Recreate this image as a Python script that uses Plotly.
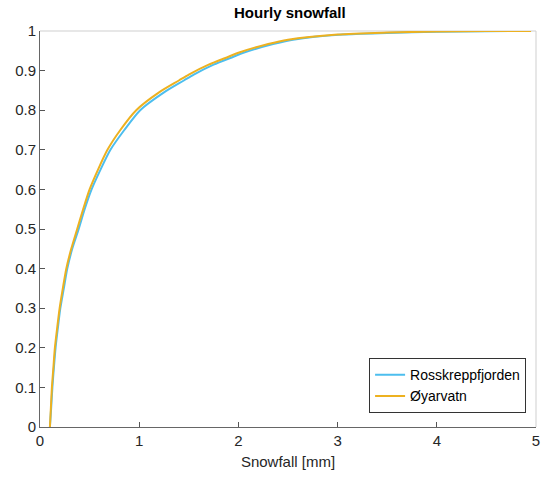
import plotly.graph_objects as go

# Empirical cumulative distribution of hourly snowfall at two stations
ross_x = [0.1, 0.113, 0.125, 0.14, 0.157, 0.18, 0.205, 0.24, 0.275, 0.325, 0.39,
          0.45, 0.52, 0.61, 0.71, 0.85, 1.01, 1.25, 1.45, 1.55, 1.75, 1.95, 2.05,
          2.35, 2.55, 3.05, 3.5, 4.0, 4.5, 4.95]
ross_y = [0.0, 0.05, 0.1, 0.15, 0.2, 0.25, 0.3, 0.35, 0.4, 0.45, 0.5,
          0.55, 0.6, 0.65, 0.7, 0.75, 0.8, 0.845, 0.875, 0.89, 0.915, 0.935, 0.945,
          0.967, 0.978, 0.991, 0.995, 0.998, 0.9995, 1.0]

oyar_x = [0.1, 0.11, 0.12, 0.135, 0.15, 0.173, 0.198, 0.23, 0.265, 0.315, 0.375,
          0.435, 0.5, 0.585, 0.68, 0.81, 0.97, 1.2, 1.4, 1.5, 1.7, 1.9, 2.0,
          2.3, 2.5, 3.0, 3.5, 4.0, 4.5, 4.95]
oyar_y = [0.0, 0.05, 0.1, 0.15, 0.2, 0.25, 0.3, 0.35, 0.4, 0.45, 0.5,
          0.55, 0.6, 0.65, 0.7, 0.75, 0.8, 0.845, 0.875, 0.89, 0.915, 0.935, 0.945,
          0.967, 0.978, 0.991, 0.996, 0.999, 1.0, 1.0]

x_ticks = [0, 1, 2, 3, 4, 5]
y_ticks = [0, 0.1, 0.2, 0.3, 0.4, 0.5, 0.6, 0.7, 0.8, 0.9, 1]

FONT = "Liberation Sans, Arial, sans-serif"
AX = "#262626"

fig = go.Figure()
fig.add_trace(go.Scatter(x=ross_x, y=ross_y, mode="lines", name="Rosskreppfjorden",
                         line=dict(color="#4DBEEE", width=2, shape="spline", smoothing=0.7)))
fig.add_trace(go.Scatter(x=oyar_x, y=oyar_y, mode="lines", name="Øyarvatn",
                         line=dict(color="#EDB120", width=2, shape="spline", smoothing=0.7)))

# light top/right box edges
fig.add_shape(type="line", xref="paper", yref="paper", x0=0, x1=1, y0=1, y1=1,
              line=dict(color="#cfcfcf", width=1), layer="below")
fig.add_shape(type="line", xref="paper", yref="paper", x0=1, x1=1, y0=0, y1=1,
              line=dict(color="#cfcfcf", width=1), layer="below")

fig.update_layout(
    width=550, height=479,
    margin=dict(l=40, r=10, t=31, b=52),
    paper_bgcolor="white", plot_bgcolor="white",
    font=dict(family=FONT, size=15, color=AX),
    title=dict(text="<b>Hourly snowfall</b>", x=0.527, xanchor="center",
               y=0.985, yanchor="top", font=dict(size=15, color="black")),
    xaxis=dict(range=[0, 5], tickvals=x_ticks, ticks="inside", ticklen=5,
               tickcolor="#555", showline=True, linecolor="#666", linewidth=1,
               showgrid=False, zeroline=False, tickfont=dict(size=15, color=AX),
               title=dict(text="Snowfall [mm]", font=dict(size=15, color=AX), standoff=8)),
    yaxis=dict(range=[0, 1], tickvals=y_ticks, ticktext=[f"{v:g}" for v in y_ticks],
               ticks="inside", ticklen=5, tickcolor="#555", showline=True,
               linecolor="#666", linewidth=1, showgrid=False, zeroline=False,
               tickfont=dict(size=15, color=AX)),
    legend=dict(x=0.98, y=0.035, xanchor="right", yanchor="bottom",
                bgcolor="white", bordercolor="#333", borderwidth=1,
                font=dict(size=14, color="black"), tracegroupgap=0,
                itemwidth=30),
    showlegend=True,
)

fig.write_html("out.html")
